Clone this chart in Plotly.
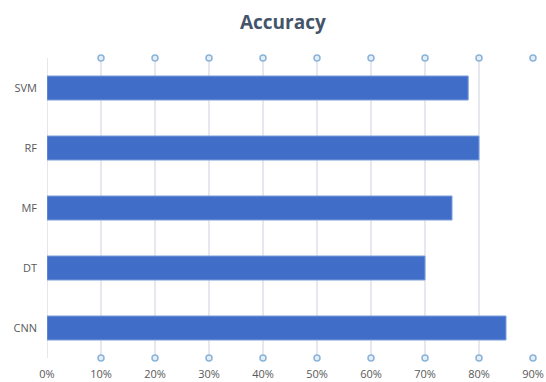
import plotly.graph_objects as go

categories = ["SVM", "RF", "MF", "DT", "CNN"]
accuracy = [78, 80, 75, 70, 85]
tick_vals = [0, 10, 20, 30, 40, 50, 60, 70, 80, 90]
tick_text = ["0%", "10%", "20%", "30%", "40%", "50%", "60%", "70%", "80%", "90%"]
marker_x = [10, 20, 30, 40, 50, 60, 70, 80, 90]

fig = go.Figure()
fig.add_trace(go.Bar(
    x=accuracy, y=categories, orientation="h",
    marker=dict(color="#3f6dc7", line=dict(color="#7d9edb", width=1)),
    width=0.4, showlegend=False, hoverinfo="skip",
))
# circle markers at top and bottom of gridlines
fig.add_trace(go.Scatter(
    x=marker_x + marker_x, y=[1] * len(marker_x) + [0] * len(marker_x),
    yaxis="y2", mode="markers", cliponaxis=False, showlegend=False,
    marker=dict(symbol="circle", size=6, color="#e3eef8",
                line=dict(color="#8db3d8", width=1.5)),
    hoverinfo="skip",
))

fig.update_layout(
    width=546, height=382,
    margin=dict(l=47, r=13, t=58, b=24),
    paper_bgcolor="white", plot_bgcolor="white",
    font=dict(family="Open Sans", color="#595959", size=11),
    title=dict(text="<b>Accuracy</b>", x=0.518, xref="container", xanchor="center",
               y=1 - 22 / 382, yref="container", yanchor="middle",
               font=dict(family="Open Sans", size=19, color="#44546a")),
    xaxis=dict(range=[0, 90], tickvals=tick_vals, ticktext=tick_text,
               showgrid=True, gridcolor="#e6e8ef", gridwidth=1.5,
               zeroline=False, showline=False, ticks="", ticklabelstandoff=8,
               ticklabeloverflow="allow", automargin=False,
               tickfont=dict(size=11, color="#595959")),
    yaxis=dict(categoryorder="array", categoryarray=categories[::-1],
               showgrid=False, zeroline=False, ticks="", ticklabelstandoff=9,
               automargin=False,
               tickfont=dict(size=11, color="#595959")),
    yaxis2=dict(overlaying="y", range=[0, 1], visible=False, showgrid=False),
)
fig.add_shape(type="line", xref="x", yref="paper", x0=0, x1=0, y0=0, y1=1,
              line=dict(color="#dcdfe7", width=1.5), layer="below")

fig.write_html("out.html")
